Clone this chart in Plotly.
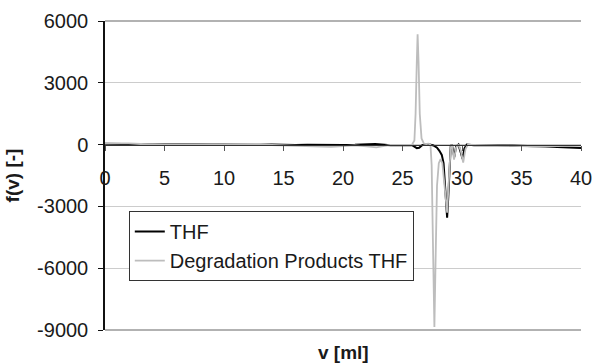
import plotly.graph_objects as go

# Elution volume v [ml] and response f(v) for each sample
thf_v = [0, 1, 2, 3, 4, 5, 6, 7, 8, 9, 10, 11, 12, 13, 14, 15, 16, 17, 18, 19, 20, 21, 22, 22.7,
         23.5, 24, 25, 25.8, 26.0, 26.2, 26.4, 26.6, 26.8, 27.0, 27.3, 27.6, 27.9, 28.1, 28.3,
         28.45, 28.6, 28.75, 28.85, 28.95, 29.05, 29.15, 29.35, 29.5, 29.7, 29.9, 30.05, 30.2,
         30.4, 31, 32, 33, 34, 35, 36, 37, 38, 39, 40]
thf_f = [40, 45, 40, 20, 0, -10, 0, 5, 0, -5, 0, 5, 0, -5, 10, -10, -20, -10, -20, -30, -20, -10, 10, 30,
         -10, -30, -20, -30, -100, -170, -150, -50, 0, 10, 0, -40, -150, -300, -500,
         -900, -2000, -3550, -2500, -800, -100, 0, -600, -100, 0, -400, -700, -200,
         0, -30, -20, -30, -40, -50, -60, -90, -120, -150, -160]

deg_v = [0, 1, 2, 3, 4, 5, 6, 7, 8, 9, 10, 11, 12, 13, 14, 15, 16, 17, 18, 19, 20, 21, 22, 22.8,
         23.5, 24, 25, 25.8, 26.0, 26.1, 26.2, 26.27, 26.35, 26.45, 26.6, 26.8, 27.0, 27.2, 27.35,
         27.45, 27.55, 27.68, 27.8, 27.9, 28.05, 28.2, 28.35, 28.5, 28.65, 28.75, 28.85, 28.95,
         29.05, 29.15, 29.33, 29.5, 29.7, 29.9, 30.1, 30.3, 30.5, 31, 32, 33, 34, 35, 36, 37,
         38, 39, 40]
deg_f = [60, 70, 60, 30, 0, -20, -10, 0, 10, 0, -10, 0, 10, 0, -20, -40, -30, -60, -100, -110, -70, -40, -90, -130,
         -60, -20, -10, 0, 200, 1500, 4000, 5350, 4000, 1500, 300, 50, 30, 50, 0,
         -1000, -4500, -8850, -5000, -2000, -900, -700, -900, -1800, -3000, -3300, -2200, -800,
         -150, 0, -730, -150, 0, -300, -870, -200, 0, -10, -20, -40, -60, -70, -100, -90,
         -70, -60, -50]

x_ticks = [0, 5, 10, 15, 20, 25, 30, 35, 40]
y_ticks = [-9000, -6000, -3000, 0, 3000, 6000]

FONT = "Liberation Sans, Arial, sans-serif"

fig = go.Figure()
fig.add_trace(go.Scatter(x=thf_v, y=thf_f, mode="lines", name="THF",
                         line=dict(color="#000000", width=2)))
fig.add_trace(go.Scatter(x=deg_v, y=deg_f, mode="lines", name="Degradation Products THF",
                         line=dict(color="#bdbdbd", width=1.8)))

# frame lines along the top and bottom of the plot area
for yp in (0, 1):
    fig.add_shape(type="line", xref="paper", yref="paper", x0=0, x1=1, y0=yp, y1=yp,
                  line=dict(color="#999999", width=1.5), layer="below")

fig.update_layout(
    width=593, height=363,
    margin=dict(l=105, r=12, t=21, b=33, autoexpand=False),
    paper_bgcolor="white", plot_bgcolor="white",
    font=dict(family=FONT, size=20, color="#1a1a1a"),
    showlegend=True,
    legend=dict(x=0.05, y=0.385, xanchor="left", yanchor="top",
                bgcolor="white", bordercolor="#333333", borderwidth=1,
                font=dict(size=20), itemwidth=30, tracegroupgap=0),
    xaxis=dict(range=[0, 40], tickvals=x_ticks, ticktext=[str(t) for t in x_ticks],
               anchor="free", position=0.6, showline=True, linecolor="#333333", linewidth=1,
               ticks="outside", ticklen=5, tickcolor="#555555", showgrid=False,
               zeroline=False, tickfont=dict(size=20), ticklabelstandoff=10, automargin=False),
    yaxis=dict(range=[-9000, 6000], tickvals=y_ticks, ticktext=[str(t) for t in y_ticks],
               showline=True, linecolor="#111111", linewidth=1.5, ticks="outside", ticklen=5,
               tickcolor="#111111", showgrid=True, gridcolor="#cccccc", gridwidth=1,
               zeroline=False, tickfont=dict(size=20), ticklabelstandoff=6, automargin=False,
               title=dict(text="<b>f(v) [-]</b>", font=dict(size=19), standoff=12)),
)

# x-axis title sits below the plot frame
fig.add_annotation(text="<b>v [ml]</b>", xref="paper", yref="paper", x=0.5, y=0,
                   yanchor="middle", yshift=-22, showarrow=False,
                   font=dict(size=19, family=FONT, color="#1a1a1a"))

fig.write_html("out.html")
